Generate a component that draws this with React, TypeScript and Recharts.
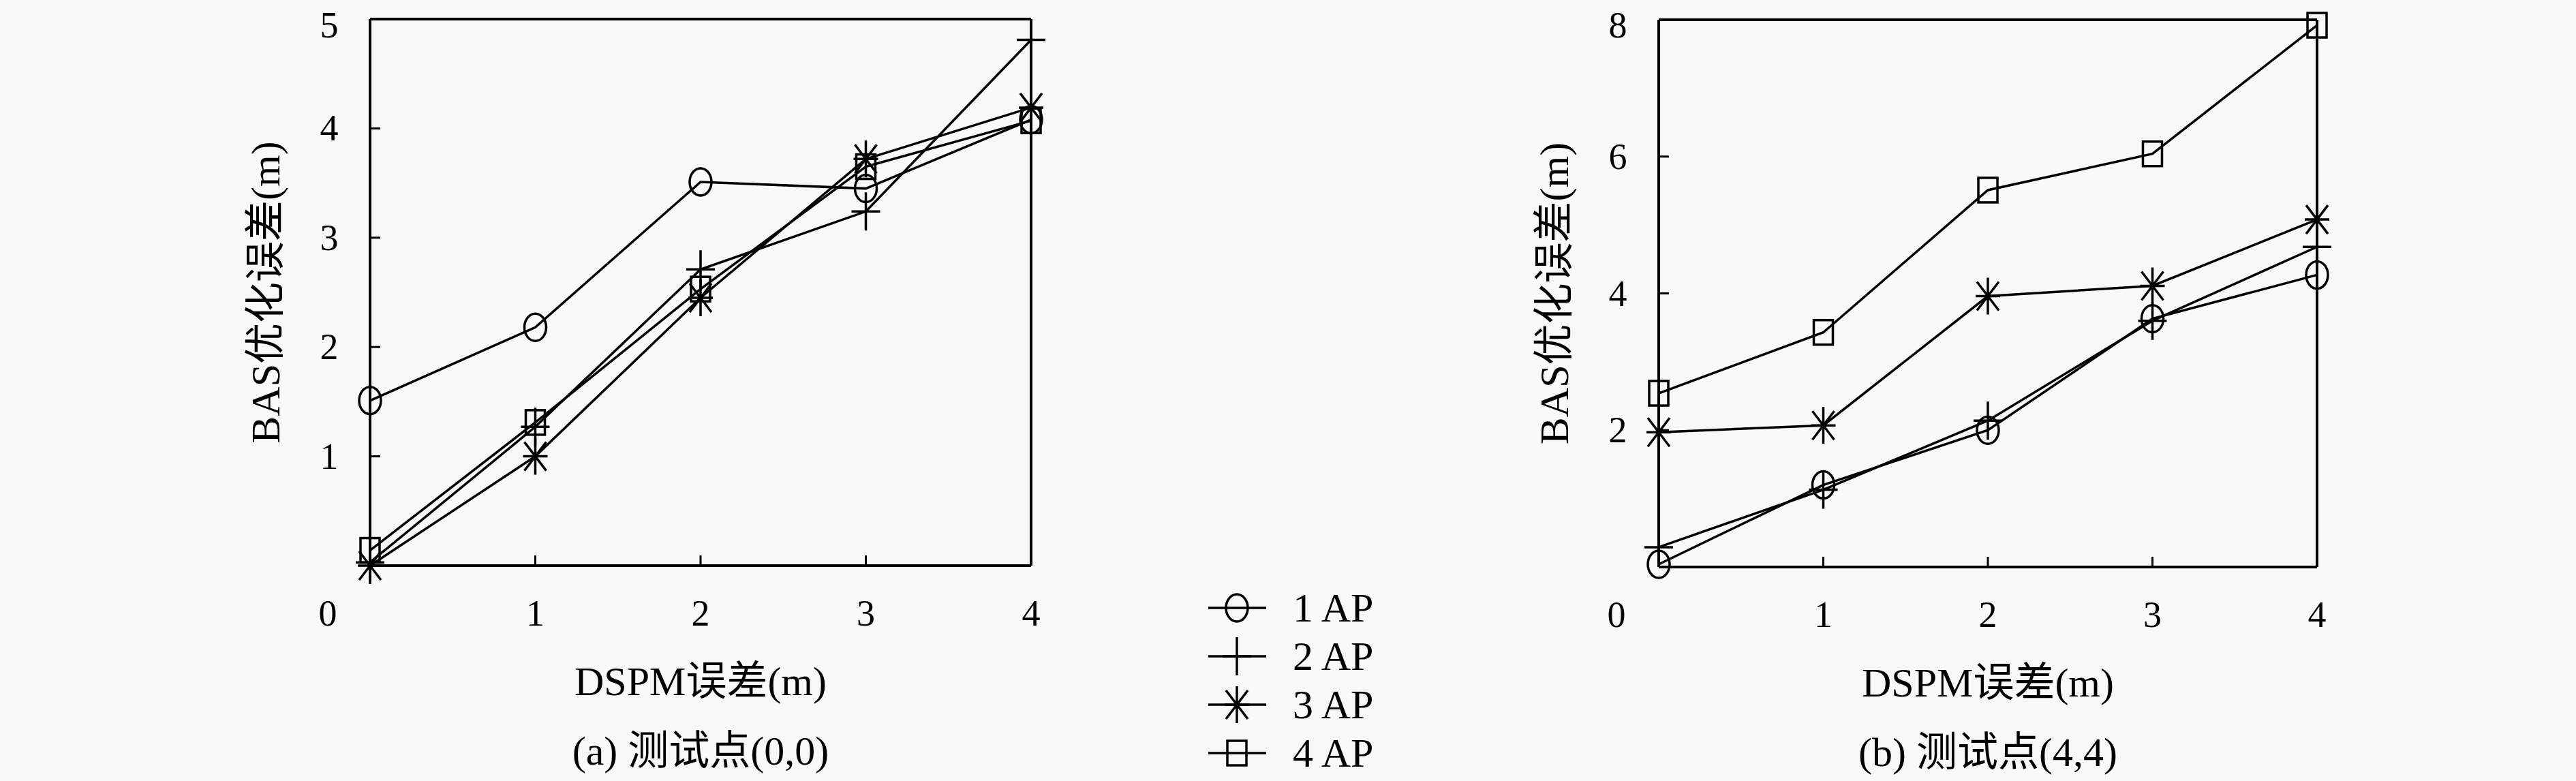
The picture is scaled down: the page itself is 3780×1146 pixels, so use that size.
import React from 'react';
import { LineChart, Line, XAxis, YAxis, Legend } from 'recharts';

// ---------- data ----------
const dspmError = [0, 1, 2, 3, 4];
const xTicks = [0, 1, 2, 3, 4];
const seriesNames = ['1 AP', '2 AP', '3 AP', '4 AP'];
const seriesKeys = ['s1', 's2', 's3', 's4'];

// (a) 测试点(0,0)
const pointA_1AP = [1.51, 2.18, 3.51, 3.45, 4.08];
const pointA_2AP = [0.03, 1.27, 2.71, 3.24, 4.81];
const pointA_3AP = [0.0, 1.0, 2.45, 3.72, 4.19];
const pointA_4AP = [0.14, 1.31, 2.53, 3.65, 4.07];
const pointAYTicks = [1, 2, 3, 4, 5];
const pointADomain = [0, 5];

// (b) 测试点(4,4)
const pointB_1AP = [0.04, 1.2, 2.0, 3.63, 4.27];
const pointB_2AP = [0.29, 1.13, 2.14, 3.6, 4.68];
const pointB_3AP = [1.97, 2.07, 3.96, 4.11, 5.08];
const pointB_4AP = [2.54, 3.43, 5.51, 6.04, 7.92];
const pointBYTicks = [2, 4, 6, 8];
const pointBDomain = [0, 8];

const xTitle = 'DSPM误差(m)';
const yTitle = 'BAS优化误差(m)';
const captionA = '(a) 测试点(0,0)';
const captionB = '(b) 测试点(4,4)';

const buildRows = (a: number[], b: number[], c: number[], d: number[]) =>
  dspmError.map((x, i) => ({ x, s1: a[i], s2: b[i], s3: c[i], s4: d[i] }));

const dataA = buildRows(pointA_1AP, pointA_2AP, pointA_3AP, pointA_4AP);
const dataB = buildRows(pointB_1AP, pointB_2AP, pointB_3AP, pointB_4AP);

// ---------- style ----------
const FONT = "'Liberation Serif', 'Noto Sans CJK SC', serif";
const INK = '#000';
const LINE_W = 3.5;
const TICK_FS = 54;
const TITLE_FS = 60;
const ORIGIN_SHIFT = -62;
const TOP_LABEL_MIN = 37;

type Shape = 'circle' | 'plus' | 'star' | 'square';
const SHAPES: Shape[] = ['circle', 'plus', 'star', 'square'];

const Marker = ({ shape, cx, cy }: { shape: Shape; cx: number; cy: number }) => {
  const common = { stroke: INK, strokeWidth: LINE_W, fill: 'none' };
  if (cx == null || cy == null || isNaN(cx) || isNaN(cy)) return <g />;
  switch (shape) {
    case 'circle':
      return <ellipse cx={cx} cy={cy} rx={16} ry={20} {...common} />;
    case 'plus':
      return <path d={`M${cx - 21},${cy}H${cx + 21}M${cx},${cy - 28}V${cy + 28}`} {...common} />;
    case 'star':
      return (
        <path
          d={`M${cx - 18},${cy}H${cx + 18}M${cx},${cy - 27}V${cy + 27}M${cx - 16},${cy - 21}L${cx + 16},${cy + 21}M${cx - 16},${cy + 21}L${cx + 16},${cy - 21}`}
          {...common}
        />
      );
    default:
      return <rect x={cx - 14} y={cy - 18} width={28} height={36} {...common} />;
  }
};

const XTick = (props: any) => {
  const { x, y, payload } = props;
  const dx = payload.value === 0 ? ORIGIN_SHIFT : 0;
  return (
    <text x={x + dx} y={y} textAnchor="middle" dominantBaseline="central" fontSize={TICK_FS} fontFamily={FONT} fill={INK}>
      {payload.value}
    </text>
  );
};

const YTick = (props: any) => {
  const { x, y, payload } = props;
  return (
    <text
      x={x}
      y={Math.max(y, TOP_LABEL_MIN)}
      textAnchor="middle"
      dominantBaseline="central"
      fontSize={TICK_FS}
      fontFamily={FONT}
      fill={INK}
    >
      {payload.value}
    </text>
  );
};

const xTitles = (title: string, caption: string) => (props: any) => {
  const vb = props.viewBox || { x: 0, y: 0, width: 0, height: 0 };
  const cx = vb.x + vb.width / 2;
  return (
    <g>
      <text x={cx} y={vb.y + 190} textAnchor="middle" fontSize={TITLE_FS} fontFamily={FONT} fill={INK}>
        {title}
      </text>
      <text x={cx} y={vb.y + 292} textAnchor="middle" fontSize={TITLE_FS} fontFamily={FONT} fill={INK}>
        {caption}
      </text>
    </g>
  );
};

const yTitleRenderer = (title: string) => (props: any) => {
  const vb = props.viewBox || { x: 0, y: 0, width: 0, height: 0 };
  const cx = vb.x + vb.width - 153;
  const cy = vb.y + vb.height / 2;
  return (
    <text
      x={cx}
      y={cy}
      transform={`rotate(-90 ${cx} ${cy})`}
      textAnchor="middle"
      dominantBaseline="central"
      fontSize={TITLE_FS}
      fontFamily={FONT}
      fill={INK}
    >
      {title}
    </text>
  );
};

const LegendContent = (props: any) => {
  const payload = props.payload || [];
  return (
    <svg width={320} height={300} style={{ overflow: 'visible' }}>
      {payload.map((entry: any) => {
        const idx = seriesNames.indexOf(entry.value);
        const cy = 42 + idx * 71;
        return (
          <g key={entry.value}>
            <line x1={13} x2={98} y1={cy} y2={cy} stroke={INK} strokeWidth={LINE_W} />
            <Marker shape={SHAPES[idx]} cx={55} cy={cy} />
            <text x={137} y={cy} dominantBaseline="central" fontSize={TITLE_FS} fontFamily={FONT} fill={INK}>
              {entry.value}
            </text>
          </g>
        );
      })}
    </svg>
  );
};

type PanelProps = {
  id: string;
  width: number;
  margin: { top: number; right: number; bottom: number; left: number };
  data: any[];
  domain: number[];
  yTicks: number[];
  caption: string;
  withLegend?: boolean;
};

const Panel = ({ id, width, margin, data, domain, yTicks, caption, withLegend }: PanelProps) => {
  const axisLine = { stroke: INK, strokeWidth: 4 };
  const tickLine = { stroke: INK, strokeWidth: 3 };
  return (
    <LineChart width={width} height={1146} data={data} margin={margin}>
      <XAxis
        dataKey="x"
        type="number"
        domain={[0, 4]}
        ticks={xTicks}
        interval={0}
        height={100}
        tickSize={-15}
        tickMargin={85}
        axisLine={axisLine}
        tickLine={tickLine}
        tick={(p: any) => <XTick {...p} />}
        label={xTitles(xTitle, caption)}
      />
      <XAxis
        xAxisId="top"
        orientation="top"
        dataKey="x"
        type="number"
        domain={[0, 4]}
        ticks={xTicks}
        interval={0}
        height={1}
        tickSize={-15}
        axisLine={axisLine}
        tickLine={tickLine}
        tick={false}
        allowDataOverflow
      />
      <YAxis
        type="number"
        domain={domain}
        ticks={yTicks}
        interval={0}
        width={100}
        tickSize={-15}
        tickMargin={75}
        axisLine={axisLine}
        tickLine={tickLine}
        tick={(p: any) => <YTick {...p} />}
        label={yTitleRenderer(yTitle)}
      />
      <YAxis
        yAxisId="right"
        orientation="right"
        type="number"
        domain={domain}
        ticks={yTicks}
        interval={0}
        width={1}
        tickSize={-15}
        axisLine={axisLine}
        tickLine={tickLine}
        tick={false}
        allowDataOverflow
      />
      {seriesKeys.map((k, si) => (
        <Line
          key={k}
          dataKey={k}
          name={seriesNames[si]}
          type="linear"
          stroke={INK}
          strokeWidth={LINE_W}
          isAnimationActive={false}
          activeDot={false}
          legendType="line"
          dot={(p: any) => <Marker key={`${id}-${k}-${p.index}`} shape={SHAPES[si]} cx={p.cx} cy={p.cy} />}
        />
      ))}
      {withLegend && (
        <Legend
          layout="vertical"
          align="center"
          verticalAlign="middle"
          content={(p: any) => <LegendContent {...p} />}
          wrapperStyle={{ position: 'absolute', left: 1760, top: 850, width: 320, height: 300 }}
        />
      )}
    </LineChart>
  );
};

export default function App() {
  return (
    <div
      style={{
        position: 'absolute',
        left: 0,
        top: 0,
        width: 3780,
        height: 1146,
        background: '#f8f8f8',
        overflow: 'hidden',
      }}
    >
      <div style={{ position: 'absolute', left: 0, top: 0 }}>
        <Panel
          id="a"
          width={2150}
          margin={{ top: 27, right: 636, bottom: 216, left: 443 }}
          data={dataA}
          domain={pointADomain}
          yTicks={pointAYTicks}
          caption={captionA}
          withLegend
        />
      </div>
      <div style={{ position: 'absolute', left: 2150, top: 0 }}>
        <Panel
          id="b"
          width={1630}
          margin={{ top: 28, right: 379, bottom: 214, left: 184 }}
          data={dataB}
          domain={pointBDomain}
          yTicks={pointBYTicks}
          caption={captionB}
        />
      </div>
    </div>
  );
}
